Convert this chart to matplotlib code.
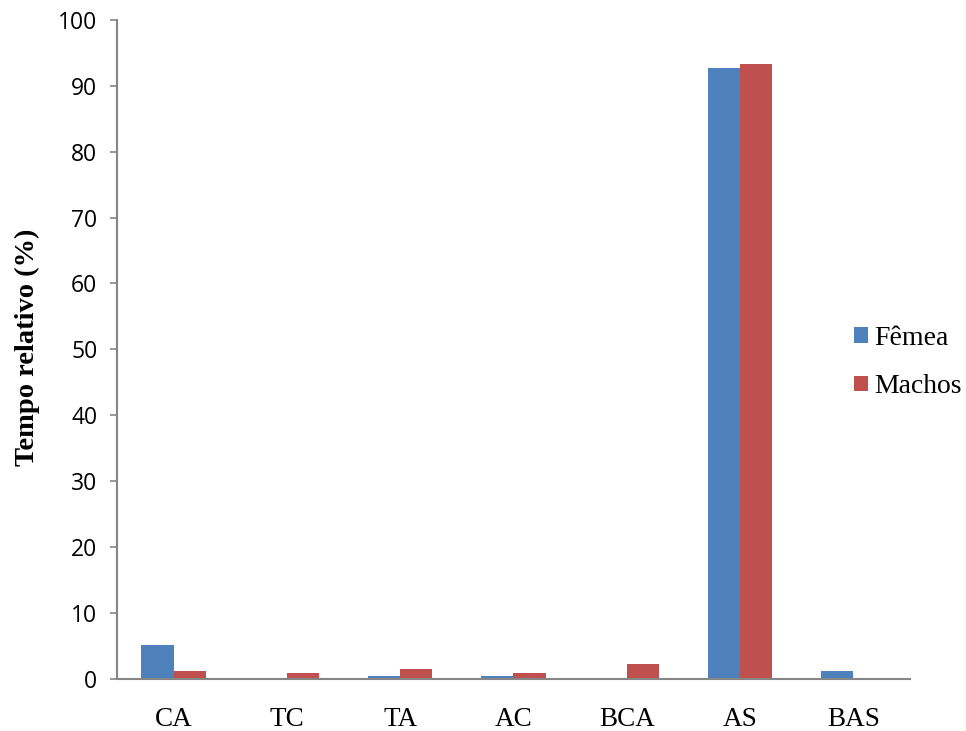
import numpy as np
import matplotlib.pyplot as plt

# tempo relativo de cada comportamento, por sexo
categorias = ['CA', 'TC', 'TA', 'AC', 'BCA', 'AS', 'BAS']
femea = [5.2, 0.0, 0.4, 0.5, 0.0, 92.7, 1.3]
machos = [1.3, 0.9, 1.6, 0.85, 2.3, 93.3, 0.0]

cor_femea = '#4F81BD'
cor_machos = '#C0504D'
cinza = '#868686'

fig = plt.figure(figsize=(9.66, 7.31), dpi=100)
ax = fig.add_axes([0.121, 0.071, 0.821, 0.902])

x = np.arange(len(categorias))
w = 0.285
ax.bar(x - w / 2, femea, w, color=cor_femea, label='Fêmea', edgecolor='none')
ax.bar(x + w / 2, machos, w, color=cor_machos, label='Machos', edgecolor='none')

ax.set_xlim(-0.5, len(categorias) - 0.5)
ax.set_ylim(0, 100)
ax.set_yticks(range(0, 101, 10))
ax.set_xticks(x)
ax.set_xticklabels(categorias, family='Liberation Serif', fontsize=19.5)
for t in ax.get_yticklabels():
    t.set_family('Open Sans')
    t.set_fontsize(16.5)

for lado in ['top', 'right']:
    ax.spines[lado].set_visible(False)
for lado in ['left', 'bottom']:
    ax.spines[lado].set_color(cinza)
    ax.spines[lado].set_linewidth(1.5)
ax.tick_params(axis='y', direction='out', length=5, width=1.2, color=cinza, pad=9)
ax.tick_params(axis='x', length=0, pad=20)

ax.set_ylabel('Tempo relativo (%)', family='Liberation Serif', fontsize=20.5,
              fontweight='bold')
ax.yaxis.set_label_coords(-0.097, 0.503)

ax.legend(loc='center left', bbox_to_anchor=(0.8695, 0.504), bbox_transform=fig.transFigure,
          frameon=False, borderpad=0, prop={'family': 'Liberation Serif', 'size': 20},
          handlelength=0.5, handleheight=0.5, handletextpad=0.25, labelspacing=0.85)

fig.savefig('out.png', dpi=100)
